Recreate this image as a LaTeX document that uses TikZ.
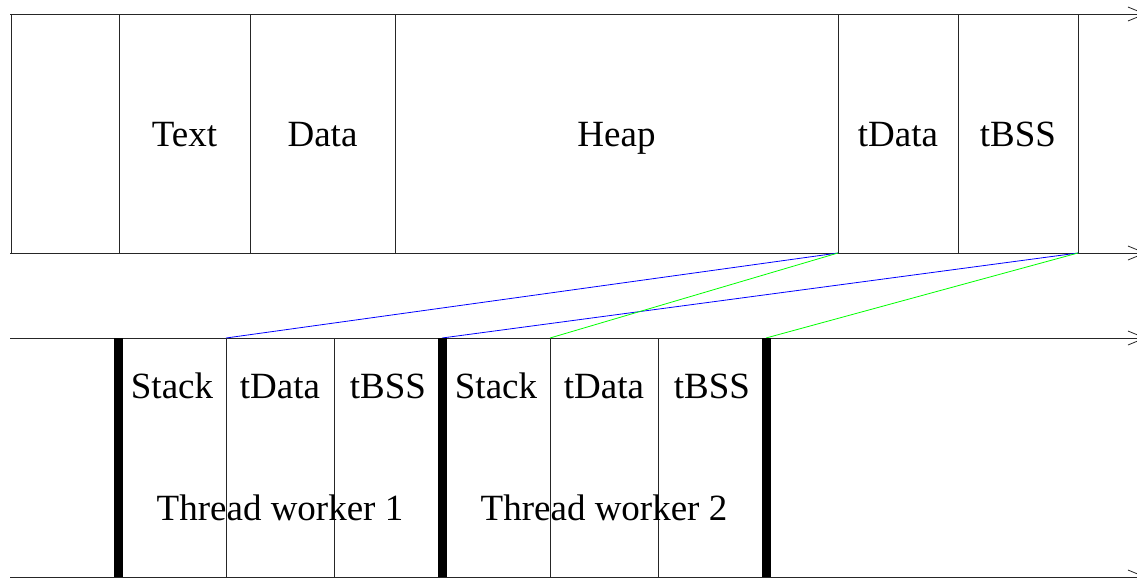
\documentclass[tikz,border=0pt]{standalone}
\usepackage{fontspec}
\setmainfont{Liberation Serif}
\usetikzlibrary{arrows.meta,positioning}
\begin{document}
\begin{tikzpicture}[x=1pt,y=-1pt,
  memcell/.style={draw=black!85,line width=0.8pt,inner sep=0pt,outer sep=0pt,
    minimum height=239pt,text height=28pt,text depth=2pt,font=\fontsize{37}{44}\selectfont},
  thrcell/.style={draw=black!85,line width=0.8pt,inner sep=0pt,outer sep=0pt,
    minimum width=108pt,text height=60pt,text depth=179pt,font=\fontsize{37}{44}\selectfont},
  memline/.style={line width=0.8pt,black!85,-{Straight Barb[length=17pt,width=14pt]}},
  tlsline/.style={line width=0.8pt},
  thrbar/.style={line width=9pt}
]
  \useasboundingbox (0,0) rectangle (1137,579);
  % Process image
  \node[memcell,minimum width=108pt,anchor=north west] (blank) at (11,14) {};
  \node[memcell,minimum width=131pt,right=0pt of blank] (text) {Text};
  \node[memcell,minimum width=145pt,right=0pt of text] (data) {Data};
  \node[memcell,minimum width=443pt,right=0pt of data] (heap) {Heap};
  \node[memcell,minimum width=120pt,right=0pt of heap] (tdata) {tData};
  \node[memcell,minimum width=120pt,right=0pt of tdata] (tbss) {tBSS};
  % Thread images
  \node[thrcell,anchor=north west] (stackA) at (118,338) {Stack};
  \node[thrcell,right=0pt of stackA] (tdataA) {tData};
  \node[thrcell,right=0pt of tdataA] (tbssA) {tBSS};
  \node[thrcell,right=0pt of tbssA] (stackB) {Stack};
  \node[thrcell,right=0pt of stackB] (tdataB) {tData};
  \node[thrcell,right=0pt of tdataB] (tbssB) {tBSS};
  \node[font=\fontsize{37}{44}\selectfont] (workerA) at (280,508) {Thread worker 1};
  \node[font=\fontsize{37}{44}\selectfont] (workerB) at (604,508) {Thread worker 2};
  % Address lines
  \coordinate (topStart) at (10,14);
  \coordinate (topEnd) at (1146,14);
  \coordinate (midStart) at (10,253);
  \coordinate (midEnd) at (1146,253);
  \coordinate (lowStart) at (10,338);
  \coordinate (lowEnd) at (1146,338);
  \coordinate (botStart) at (10,577);
  \coordinate (botEnd) at (1146,577);
  \draw[memline] (topStart) -- (topEnd);
  \draw[memline] (midStart) -- (midEnd);
  \draw[memline] (lowStart) -- (lowEnd);
  \draw[memline] (botStart) -- (botEnd);
  % TLS copies
  \draw[tlsline,blue] (tdata.south west) -- (tdataA.north west);
  \draw[tlsline,blue] (tbss.south east) -- (stackB.north west);
  \draw[tlsline,green] (tdata.south west) -- (tdataB.north west);
  \draw[tlsline,green] (tbss.south east) -- (tbssB.north east);
  % Thread boundaries
  \draw[thrbar] (stackA.north west) -- (stackA.south west);
  \draw[thrbar] (stackB.north west) -- (stackB.south west);
  \draw[thrbar] (tbssB.north east) -- (tbssB.south east);
\end{tikzpicture}
\end{document}
